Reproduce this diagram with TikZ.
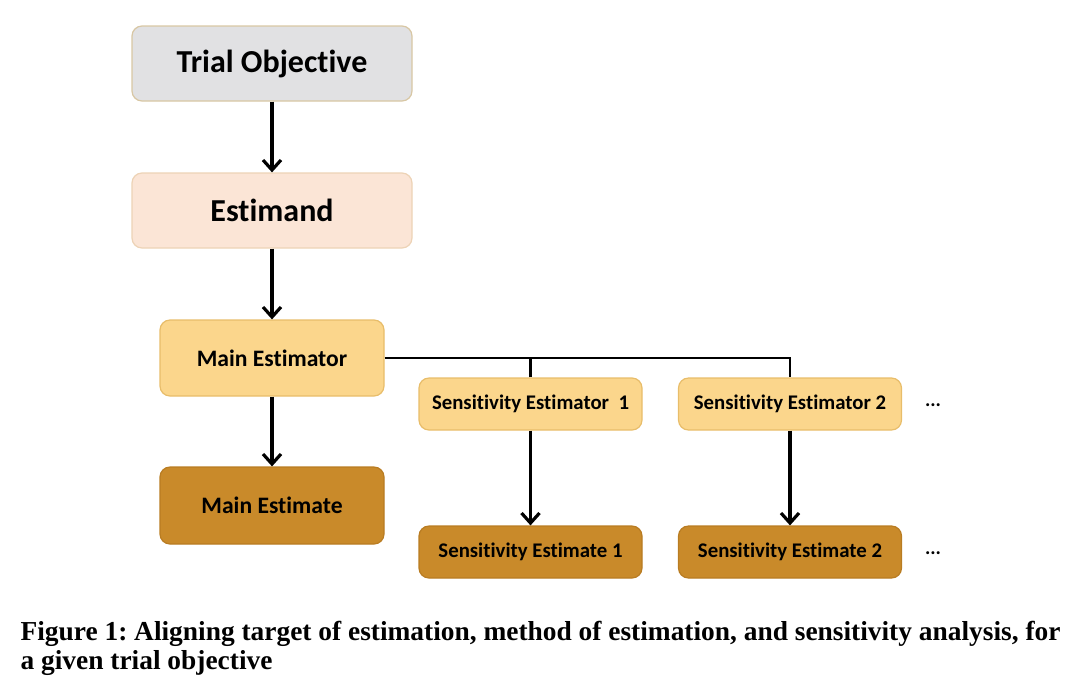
\documentclass[tikz,border=0pt]{standalone}
\usepackage{fontspec}
\setmainfont{Liberation Serif}
\newfontfamily\boxfont[Ligatures=NoCommon]{Carlito}
\usetikzlibrary{arrows.meta,positioning}
\frenchspacing

\definecolor{objfill}{HTML}{E1E1E3}
\definecolor{objdraw}{HTML}{D8C7A4}
\definecolor{estfill}{HTML}{FBE5D6}
\definecolor{estdraw}{HTML}{EDD3B6}
\definecolor{torfill}{HTML}{FBD68C}
\definecolor{tordraw}{HTML}{E8BD6A}
\definecolor{atefill}{HTML}{C98A2A}
\definecolor{atedraw}{HTML}{B97C22}

\begin{document}
\begin{tikzpicture}[x=0.5pt,y=-0.5pt,->,>={Straight Barb[length=5pt,width=9pt]},
                    line width=1.6pt,auto]
  \tikzstyle{every node}=[font=\boxfont\bfseries,text=black]
  \tikzstyle{big}=[rounded corners=5pt,line width=0.6pt,minimum width=140pt,minimum height=37.5pt]
  \tikzstyle{small}=[rounded corners=5pt,line width=0.6pt,minimum width=111.5pt,minimum height=26pt,font=\boxfont\bfseries\fontsize{10.4}{12}\selectfont]

  \useasboundingbox (0,0) rectangle (1069,681);

  \node[big,fill=objfill,draw=objdraw,font=\boxfont\bfseries\fontsize{16}{19}\selectfont] (obj) at (272,63.5) {\raisebox{-1pt}{Trial Objective}};
  \node[big,fill=estfill,draw=estdraw,font=\boxfont\bfseries\fontsize{16}{19}\selectfont] (est) at (272,210.5) {\raisebox{-1pt}{Estimand}};
  \node[big,minimum width=112pt,minimum height=38pt,fill=torfill,draw=tordraw,font=\boxfont\bfseries\fontsize{11.8}{14}\selectfont] (mainor) at (272,358) {Main Estimator};
  \node[big,minimum width=112pt,minimum height=38.5pt,fill=atefill,draw=atedraw,font=\boxfont\bfseries\fontsize{11.8}{14}\selectfont] (mainate) at (272,505.5) {Main Estimate};

  \node[small,fill=torfill,draw=tordraw] (sensor1) at (530.5,404) {Sensitivity Estimator\ \ 1};
  \node[small,fill=torfill,draw=tordraw] (sensor2) at (790,404) {Sensitivity Estimator 2};
  \node[small,fill=atefill,draw=atedraw] (sensate1) at (530.5,552) {Sensitivity Estimate 1};
  \node[small,fill=atefill,draw=atedraw] (sensate2) at (790,552) {Sensitivity Estimate 2};

  \node (dots1) at (933,405) {...};
  \node (dots2) at (933,553) {...};

  \path (obj) edge (est)
        (est) edge (mainor)
        (mainor) edge (mainate)
        (sensor1) edge (sensate1)
        (sensor2) edge (sensate2);
  \draw[-,line width=1.2pt] (mainor.east) -| (sensor2.north);
  \draw[-,line width=1.2pt] (sensor1.north) -- (sensor1.north |- mainor.east);

  \node[anchor=base west,inner sep=0pt,font=\bfseries\fontsize{13.7}{16}\selectfont] (cap1) at (19,640)
    {Figure 1: Aligning target of estimation, method of estimation, and sensitivity analysis, for};
  \node[anchor=base west,inner sep=0pt,font=\bfseries\fontsize{13.7}{16}\selectfont] (cap2) at (19,669)
    {a given trial objective};
\end{tikzpicture}
\end{document}
